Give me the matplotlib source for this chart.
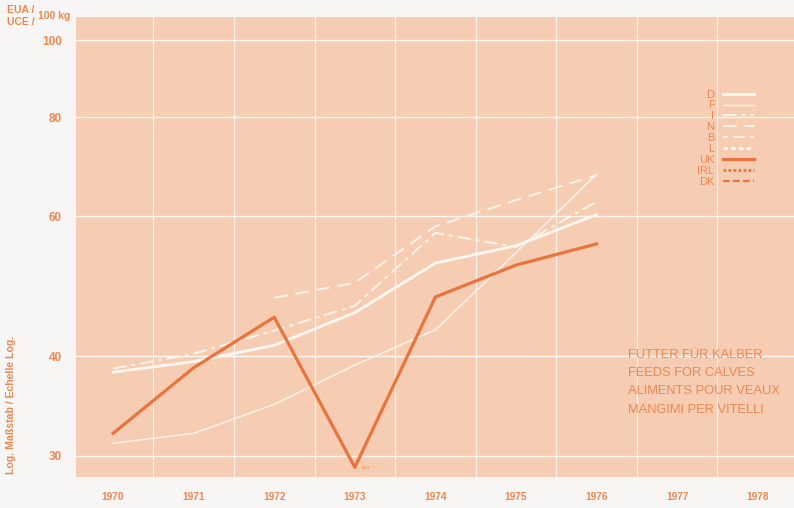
import numpy as np
import matplotlib.pyplot as plt

plt.rcParams['font.family'] = ['Liberation Sans', 'DejaVu Sans']

# data (EUA/UCE per 100 kg, log scale)
years = [1970, 1971, 1972, 1973, 1974, 1975, 1976]
all_years = [1970, 1971, 1972, 1973, 1974, 1975, 1976, 1977, 1978]
d_vals = [38.2, 39.4, 41.3, 45.4, 52.4, 55.1, 60.3]
f_vals = [31.1, 32.0, 34.8, 39.0, 43.2, 54.0, 67.8]
i_vals = [38.6, 40.3, 43.1, 46.3, 57.2, 54.9, 62.6]
n_years = [1972, 1973, 1974, 1975, 1976]
n_vals = [47.4, 49.5, 58.3, 62.9, 67.6]
uk_vals = [32.0, 38.7, 44.8, 29.0, 47.5, 52.1, 55.4]
y_ticks = [30, 40, 60, 80, 100]
title_lines = ["FUTTER FÜR KALBER", "FEEDS FOR CALVES",
               "ALIMENTS POUR VEAUX", "MANGIMI PER VITELLI"]

orange = '#E8743F'
text_orange = '#EC8752'
bg = '#F6CDB2'
white = '#FFF8F2'

fig = plt.figure(figsize=(7.94, 5.08), dpi=100, facecolor='#F7F6F4')
ax = fig.add_axes([76/794, 1 - 477/508, 718/794, 460/508])
ax.set_facecolor(bg)
for s in ax.spines.values():
    s.set_visible(False)

ax.set_yscale('log')
ax.set_ylim(28.2, 106.9)
ax.set_xlim(1969.54, 1978.45)

# grid
ax.set_yticks(y_ticks)
ax.set_yticklabels([str(v) for v in y_ticks])
ax.yaxis.set_minor_locator(plt.NullLocator())
ax.set_xticks(all_years)
ax.set_xticklabels([str(y) for y in all_years])
ax.set_xticks([y + 0.5 for y in all_years[:-1]], minor=True)
ax.grid(True, axis='y', which='major', color='white', lw=1.0, alpha=0.85)
ax.grid(True, axis='x', which='minor', color='white', lw=0.9, alpha=0.75)
ax.tick_params(axis='both', which='both', length=0)
ax.tick_params(axis='y', pad=10, labelsize=8.5, labelcolor=text_orange)
ax.tick_params(axis='x', pad=11, labelsize=7.3, labelcolor=text_orange)
for lab in ax.get_yticklabels() + ax.get_xticklabels():
    lab.set_fontweight('bold')

# series
ax.plot(years, d_vals, color=white, lw=2.0, label='D', zorder=3)
ax.plot(years, f_vals, color=white, lw=1.0, alpha=0.9, label='F', zorder=3)
ax.plot(years, i_vals, color=white, lw=1.4, dashes=(7, 2.5, 2, 2.5), alpha=0.9, label='I', zorder=3)
ax.plot(n_years, n_vals, color=white, lw=1.4, dashes=(7, 4), alpha=0.9, label='N', zorder=3)
ax.plot([], [], color=white, lw=1.2, dashes=(3, 3, 7, 3), label='B')
ax.plot([], [], color=white, lw=2.2, dashes=(1.5, 1), label='L')
ax.plot(years, uk_vals, color=orange, lw=2.3, label='UK', zorder=4)
ax.plot([], [], color=orange, lw=2.0, dashes=(1, 0.8), label='IRL')
ax.plot([], [], color=orange, lw=1.6, dashes=(3, 1.5), label='DK')

ax.text(1973.09, 29.0, 'n.v.', fontsize=4.5, color=text_orange, va='center')

leg = ax.legend(loc='upper right', bbox_to_anchor=((760 - 76) / 718, (477 - 84) / 460),
                frameon=False, markerfirst=False, handlelength=2.8,
                labelspacing=0.08, handletextpad=0.8, fontsize=8, borderpad=0)
for t in leg.get_texts():
    t.set_color(text_orange)

# description block
for k, line in enumerate(title_lines):
    fig.text(628/794, 1 - (355 + 18.2 * k)/508, line, fontsize=9.3,
             color=text_orange, va='center', ha='left')

# unit label
fig.text(7/794, 1 - 10/508, 'EUA /', fontsize=7.5, color=text_orange,
         fontweight='bold', va='center')
fig.text(7/794, 1 - 22/508, 'UCE /', fontsize=7.5, color=text_orange,
         fontweight='bold', va='center')
fig.text(38/794, 1 - 16/508, '100 kg', fontsize=7.5, color=text_orange,
         fontweight='bold', va='center')
fig.text(11/794, 1 - 405/508, 'Log. Maßstab / Echelle Log.', fontsize=7.6,
         color=text_orange, fontweight='bold', rotation=90, va='center', ha='center')

fig.savefig('out.png', dpi=100, facecolor=fig.get_facecolor())
